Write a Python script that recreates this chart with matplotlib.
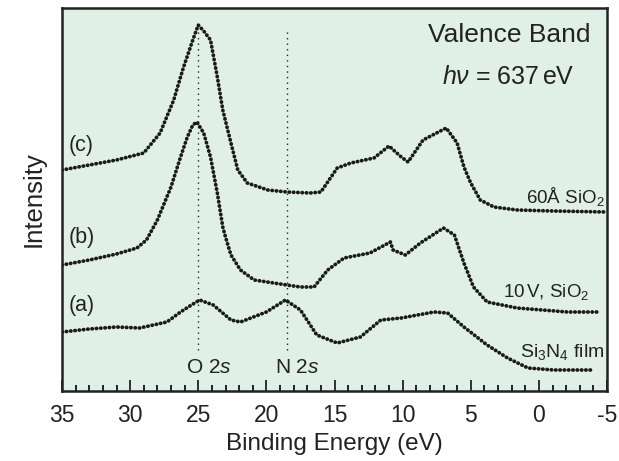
import numpy as np
import matplotlib
matplotlib.use("Agg")
import matplotlib.pyplot as plt
from matplotlib.ticker import MultipleLocator

plt.rcParams['font.family'] = ['Liberation Sans', 'DejaVu Sans']
plt.rcParams['mathtext.fontset'] = 'custom'
plt.rcParams['mathtext.rm'] = 'Liberation Sans'
plt.rcParams['mathtext.it'] = 'Liberation Sans:italic'

# binding energy (eV) / intensity (arb. units)
energy_c = [35, 33, 31, 29, 27.8, 26.8, 26.1, 25.4, 25.0, 24.6, 24.1, 23.6, 23.2, 22.6, 22.1,
            21.4, 19.9, 18.5, 16.8, 16.0, 14.8, 13.8, 12.1, 11.0, 10.1, 9.6, 8.5, 6.8,
            6.0, 5.5, 5.0, 4.3, 3.3, 1.6, -1.0, -5.0]
inten_c = [221, 226, 231, 238, 258, 291, 323, 351, 366, 360, 351, 314, 281, 248, 221,
           208, 201, 199, 198, 199, 223, 228, 233, 245, 234, 229, 251, 263,
           248, 224, 208, 191, 184, 181, 180, 179]

energy_b = [35, 33, 31, 29.5, 28.8, 28.0, 27.0, 26.3, 25.8, 25.4, 25.1, 24.6, 24.1, 23.6,
            23.2, 23.0, 22.6, 21.9, 20.9, 18.5, 17.5, 16.5, 15.5, 14.3, 12.4, 10.9, 10.7,
            9.8, 8.7, 7.0, 6.2, 5.5, 4.8, 3.8, 1.6, -2.1, -4.3]
inten_b = [126, 131, 137, 143, 151, 171, 204, 234, 254, 266, 269, 258, 234, 198,
           164, 154, 136, 121, 111, 106, 104, 104, 121, 133, 138, 149, 141,
           136, 148, 163, 156, 128, 104, 89, 83, 79, 79]

energy_a = [35, 33, 31, 29.3, 27.3, 26.3, 25.5, 24.9, 23.9, 22.6, 21.9, 20.0, 18.6, 17.5,
            16.3, 14.8, 13.1, 11.6, 10.1, 7.7, 6.7, 5.5, 3.8, 2.3, 0.8, -1.1, -3.8]
inten_a = [59, 62, 64, 63, 69, 79, 86, 91, 86, 71, 69, 79, 91, 81,
           56, 48, 54, 71, 73, 79, 78, 64, 46, 33, 23, 21, 21]

peak_lines = [25.0, 18.5]
peak_names = ['O', 'N']
tick_vals = [35, 30, 25, 20, 15, 10, 5, 0, -5]

fig = plt.figure(figsize=(6.19, 4.61), dpi=100)
ax = fig.add_axes([62 / 619, 70 / 461, 545 / 619, 383 / 461])
ax.set_facecolor('#e1f0e6')

for e, y in [(energy_c, inten_c), (energy_b, inten_b), (energy_a, inten_a)]:
    ax.plot(e, y, color='#1a1a1a', lw=2.7, linestyle=(0, (0.1, 1.05)),
            dash_capstyle='round', solid_joinstyle='round')

for xv in peak_lines:
    ax.plot([xv, xv], [41, 363], color='#222222', lw=1.0, linestyle=(0, (1, 3)))

ax.set_xlim(35, -5)
ax.set_ylim(0, 383)
ax.set_xticks(tick_vals)
ax.set_xticklabels([str(t) for t in tick_vals])
ax.xaxis.set_minor_locator(MultipleLocator(1))
ax.tick_params(axis='x', which='major', direction='in', length=8, width=1.3,
               labelsize=16.5, pad=9, colors='#222222')
ax.tick_params(axis='x', which='minor', direction='in', length=4, width=1.2)
ax.tick_params(axis='y', left=False, labelleft=False)
for s in ax.spines.values():
    s.set_linewidth(1.8)
    s.set_color('#222222')

ax.set_xlabel('Binding Energy (eV)', fontsize=17.5, labelpad=5, color='#222222')
ax.set_ylabel('Intensity', fontsize=18.5, labelpad=12, color='#222222')

ax.text(0.969, 0.93, 'Valence Band', transform=ax.transAxes, fontsize=19,
        ha='right', va='center', color='#222222')
ax.text(0.697, 0.82, r'$h\nu$ = 637$\,$eV', transform=ax.transAxes, fontsize=18,
        ha='left', va='center', color='#222222')

ax.text(34.5, 246, '(c)', fontsize=15.5, va='center', color='#222222')
ax.text(34.5, 154, '(b)', fontsize=15.5, va='center', color='#222222')
ax.text(34.5, 86, '(a)', fontsize=15.5, va='center', color='#222222')

ax.text(-4.8, 194, r'60Å SiO$_2$', fontsize=13.5, ha='right', va='center', color='#222222')
ax.text(-3.7, 99, r'10$\,$V, SiO$_2$', fontsize=13.5, ha='right', va='center', color='#222222')
ax.text(-4.8, 39, r'Si$_3$N$_4$ film', fontsize=14, ha='right', va='center', color='#222222')

for xv, nm in zip(peak_lines, peak_names):
    ax.text(xv - 0.8, 24, nm + r' 2$\it{s}$', fontsize=15, ha='center', va='center',
            color='#222222')

fig.savefig('out.png', dpi=100)
